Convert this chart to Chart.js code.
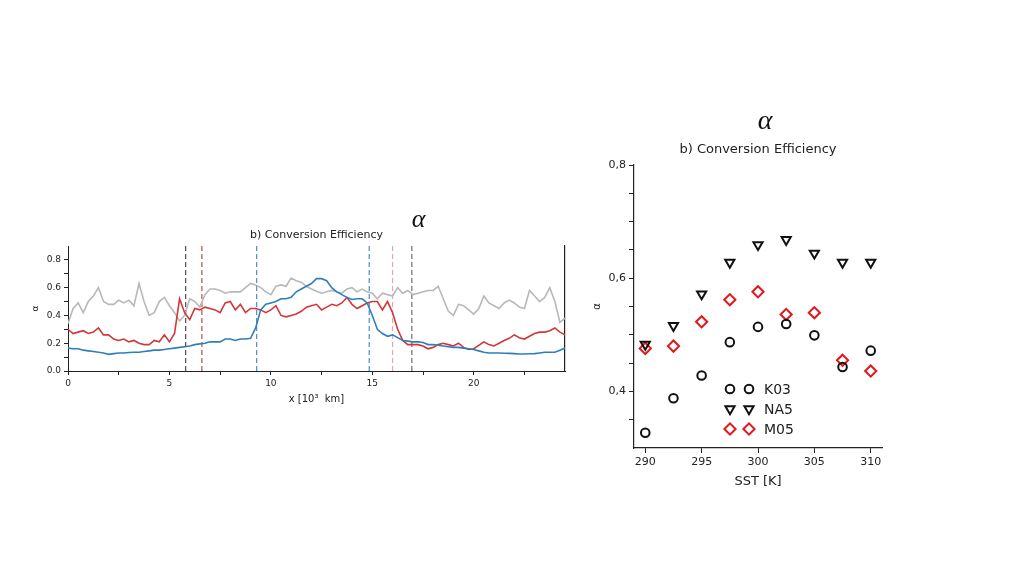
<!DOCTYPE html>
<html>
<head>
<meta charset="utf-8">
<script src="https://cdn.jsdelivr.net/npm/chart.js@4.4.1/dist/chart.umd.min.js"></script>
<style>
  body { margin: 0; background: #fff; width: 1024px; height: 576px; position: relative; overflow: hidden; }
  .box { position: absolute; }
  #leftBox { left: 20px; top: 200px; width: 560px; height: 215px; }
  #rightBox { left: 585px; top: 100px; width: 310px; height: 400px; }
</style>
</head>
<body>
<div class="box" id="leftBox"><canvas id="profileChart"></canvas></div>
<div class="box" id="rightBox"><canvas id="sstChart"></canvas></div>
<script>
// left panel: alpha along x [10^3 km]
const profileX = [0,0.25,0.5,0.75,1,1.25,1.5,1.75,2,2.25,2.5,2.75,3,3.25,3.5,3.75,4,4.25,4.5,4.75,5,5.25,5.5,5.75,
  6,6.25,6.5,6.75,7,7.25,7.5,7.75,8,8.25,8.5,8.75,9,9.25,9.5,9.75,10,10.25,10.5,10.75,11,11.25,11.5,11.75,12,
  12.25,12.5,12.75,13,13.25,13.5,13.75,14,14.25,14.5,14.75,15,15.25,15.5,15.75,16,16.25,16.5,16.75,17,17.25,17.5,17.75,18,
  18.25,18.5,18.75,19,19.25,19.5,19.75,20,20.25,20.5,20.75,21,21.25,21.5,21.75,22,22.25,22.5,22.75,23,23.25,23.5,23.75,24,24.25,24.5];

const grayAlpha = [0.34,0.45,0.49,0.42,0.50,0.54,0.60,0.50,0.48,0.48,0.51,0.49,0.51,0.47,0.63,0.50,0.40,0.42,0.50,0.53,0.47,0.42,0.36,0.40,
  0.52,0.50,0.46,0.55,0.59,0.59,0.58,0.56,0.57,0.57,0.57,0.60,0.63,0.62,0.60,0.57,0.55,0.61,0.62,0.61,0.67,0.65,0.64,0.61,0.59,
  0.575,0.56,0.57,0.58,0.57,0.56,0.59,0.60,0.57,0.59,0.57,0.56,0.52,0.56,0.55,0.54,0.60,0.56,0.58,0.55,0.56,0.57,0.58,0.58,
  0.61,0.52,0.43,0.40,0.48,0.47,0.44,0.41,0.45,0.54,0.49,0.47,0.45,0.49,0.51,0.49,0.46,0.45,0.58,0.54,0.50,0.53,0.60,0.50,0.35,0.38];

const redAlpha = [0.30,0.27,0.28,0.29,0.27,0.28,0.31,0.26,0.26,0.23,0.22,0.23,0.21,0.22,0.20,0.19,0.19,0.22,0.21,0.26,0.21,0.27,0.52,0.42,
  0.37,0.45,0.44,0.46,0.45,0.44,0.42,0.49,0.50,0.44,0.48,0.42,0.45,0.45,0.44,0.42,0.44,0.47,0.40,0.39,0.40,0.41,0.43,0.46,0.47,
  0.48,0.44,0.46,0.48,0.47,0.49,0.53,0.48,0.45,0.47,0.49,0.50,0.50,0.44,0.50,0.42,0.30,0.22,0.19,0.19,0.19,0.18,0.16,0.17,
  0.19,0.20,0.19,0.18,0.20,0.17,0.155,0.16,0.185,0.21,0.19,0.18,0.20,0.22,0.235,0.26,0.24,0.23,0.25,0.27,0.28,0.28,0.29,0.31,0.28,0.26];

const blueAlpha = [0.165,0.16,0.16,0.15,0.145,0.14,0.135,0.13,0.12,0.125,0.13,0.13,0.133,0.135,0.135,0.14,0.145,0.15,0.15,0.155,0.16,0.165,0.17,0.175,
  0.18,0.19,0.195,0.20,0.21,0.21,0.21,0.23,0.23,0.22,0.23,0.23,0.235,0.31,0.44,0.48,0.49,0.50,0.52,0.52,0.53,0.57,0.59,0.61,0.63,
  0.665,0.665,0.65,0.60,0.57,0.55,0.53,0.515,0.52,0.52,0.49,0.40,0.30,0.27,0.25,0.26,0.24,0.22,0.215,0.21,0.21,0.205,0.19,0.19,
  0.185,0.18,0.175,0.17,0.17,0.165,0.16,0.155,0.145,0.135,0.13,0.13,0.13,0.128,0.127,0.125,0.122,0.122,0.124,0.125,0.13,0.135,0.135,0.135,0.15,0.165];

const markerX = [5.8, 6.6, 9.3, 14.85, 16.0, 16.95];
const profileXTicks = [0, 2.5, 5, 7.5, 10, 12.5, 15, 17.5, 20, 22.5];
const profileYTicks = [0, 0.1, 0.2, 0.3, 0.4, 0.5, 0.6, 0.7, 0.8];

// right panel: alpha vs SST
const sstValues = [290, 292.5, 295, 297.5, 300, 302.5, 305, 307.5, 310];
const k03 = [0.327, 0.388, 0.428, 0.487, 0.514, 0.519, 0.499, 0.443, 0.472];
const na5 = [0.483, 0.516, 0.572, 0.628, 0.659, 0.668, 0.644, 0.628, 0.628];
const m05 = [0.476, 0.480, 0.523, 0.562, 0.576, 0.536, 0.539, 0.455, 0.436];
const sstTicks = [290, 295, 300, 305, 310];
const sstYTicks = [0.35, 0.4, 0.45, 0.5, 0.55, 0.6, 0.65, 0.7, 0.75, 0.8];
const seriesNames = ['K03', 'NA5', 'M05'];

const FONT = "'DejaVu Sans', sans-serif";
const markerColors = ['#4a4a4a', '#c8474a', '#4d8fc6', '#4d8fc6', '#e6a3b3', '#6f6f6f'];

// text above the plot, placed from the centre of the chart area
const headings = {
  id: 'headings',
  afterDraw(chart, args, opts) {
    const { ctx, chartArea } = chart;
    const cx = (chartArea.left + chartArea.right) / 2;
    (opts.items || []).forEach(it => {
      ctx.save();
      ctx.font = it.font;
      ctx.fillStyle = it.color || '#222';
      ctx.textAlign = 'center';
      ctx.textBaseline = 'alphabetic';
      ctx.fillText(it.text, cx + (it.dx || 0), chartArea.top + it.dy);
      ctx.restore();
    });
  }
};

function toPoints(xs, ys) {
  return xs.map((x, i) => ({ x: x, y: ys[i] }));
}

const profileSets = [
  { data: toPoints(profileX, blueAlpha), borderColor: '#2f7ebc' },
  { data: toPoints(profileX, redAlpha), borderColor: '#d3363a' },
  { data: toPoints(profileX, grayAlpha), borderColor: '#b8b8b8' }
].map(d => Object.assign(d, { borderWidth: 1.6, pointRadius: 0, tension: 0, fill: false }));

markerX.forEach((v, i) => {
  profileSets.push({
    data: [{ x: v, y: 0 }, { x: v, y: 0.9 }],
    borderColor: markerColors[i],
    borderWidth: 1.2,
    borderDash: [5, 3],
    pointRadius: 0,
    fill: false
  });
});

const tickGrid = { display: true, drawOnChartArea: false, drawTicks: true, tickLength: 4, tickColor: '#222' };

new Chart(document.getElementById('profileChart'), {
  type: 'line',
  data: { datasets: profileSets },
  plugins: [headings],
  options: {
    responsive: true,
    maintainAspectRatio: false,
    animation: false,
    layout: { padding: { left: 0, right: 14, top: 46, bottom: 4 } },
    plugins: {
      legend: { display: false },
      tooltip: { enabled: false },
      headings: {
        items: [
          { text: 'b) Conversion Efficiency', font: '11px ' + FONT, dy: -8 },
          { text: 'α', font: 'italic 26px "Liberation Serif", serif', dx: 102, dy: -19, color: '#111' }
        ]
      }
    },
    scales: {
      x: {
        type: 'linear',
        min: 0,
        max: 24.5,
        afterFit: s => { s.height = 40; },
        afterBuildTicks: s => { s.ticks = profileXTicks.map(v => ({ value: v })); },
        grid: tickGrid,
        border: { display: true, color: '#222', width: 1 },
        ticks: {
          autoSkip: false, maxRotation: 0, color: '#222', font: { family: FONT, size: 9 }, padding: 3,
          callback: v => (v % 5 === 0 ? String(v) : '')
        },
        title: { display: true, text: 'x [10³  km]', color: '#222', font: { family: FONT, size: 10 }, padding: { top: 0, bottom: 6 } }
      },
      y: {
        min: 0,
        max: 0.9,
        afterFit: s => { s.width = 48; },
        afterBuildTicks: s => { s.ticks = profileYTicks.map(v => ({ value: v })); },
        grid: tickGrid,
        border: { display: true, color: '#222', width: 1 },
        ticks: {
          autoSkip: false, color: '#222', font: { family: FONT, size: 9 }, padding: 3,
          callback: v => (Math.round(v * 10) % 2 === 0 ? v.toFixed(1) : '')
        },
        title: { display: true, text: 'α', color: '#222', font: { family: FONT, size: 9 }, padding: { top: 10, bottom: 4 } }
      },
      y2: {
        position: 'right',
        min: 0,
        max: 0.9,
        afterFit: s => { s.width = 1; },
        grid: { display: false, drawTicks: false },
        ticks: { display: false },
        border: { display: true, color: '#222', width: 1.2 }
      }
    }
  }
});

// right panel legend drawn inside the plot, two markers per entry
function drawMarker(ctx, style, x, y, r, rotation) {
  ctx.beginPath();
  if (style === 'circle') {
    ctx.arc(x, y, r, 0, Math.PI * 2);
  } else if (style === 'triangle') {
    let rad = rotation * Math.PI / 180;
    ctx.moveTo(x + Math.sin(rad) * r, y - Math.cos(rad) * r);
    rad += 2 * Math.PI / 3;
    ctx.lineTo(x + Math.sin(rad) * r, y - Math.cos(rad) * r);
    rad += 2 * Math.PI / 3;
    ctx.lineTo(x + Math.sin(rad) * r, y - Math.cos(rad) * r);
    ctx.closePath();
  } else {
    ctx.moveTo(x - r, y); ctx.lineTo(x, y - r); ctx.lineTo(x + r, y); ctx.lineTo(x, y + r);
    ctx.closePath();
  }
  ctx.stroke();
}

const innerLegend = {
  id: 'innerLegend',
  afterDraw(chart) {
    const { ctx, chartArea } = chart;
    chart.data.datasets.forEach((ds, i) => {
      const y = chartArea.top + 224 + i * 20;
      ctx.save();
      ctx.strokeStyle = ds.borderColor;
      ctx.lineWidth = ds.borderWidth;
      [96, 115].forEach(dx => drawMarker(ctx, ds.pointStyle, chartArea.left + dx, y, ds.pointRadius, ds.rotation || 0));
      ctx.fillStyle = '#222';
      ctx.font = '14px ' + FONT;
      ctx.textAlign = 'left';
      ctx.textBaseline = 'middle';
      ctx.fillText(ds.label, chartArea.left + 130, y + 1);
      ctx.restore();
    });
  }
};

new Chart(document.getElementById('sstChart'), {
  type: 'scatter',
  data: {
    datasets: [
      { label: seriesNames[0], data: toPoints(sstValues, k03), pointStyle: 'circle', pointRadius: 4.3, borderColor: '#111', borderWidth: 2 },
      { label: seriesNames[1], data: toPoints(sstValues, na5), pointStyle: 'triangle', rotation: 180, pointRadius: 5.3, borderColor: '#111', borderWidth: 2 },
      { label: seriesNames[2], data: toPoints(sstValues, m05), pointStyle: 'rectRot', pointRadius: 5.6, borderColor: '#e3171b', borderWidth: 2 }
    ].map(d => Object.assign(d, { backgroundColor: 'rgba(0,0,0,0)', pointBackgroundColor: 'rgba(0,0,0,0)', pointRotation: d.rotation || 0, pointHoverRadius: d.pointRadius }))
  },
  plugins: [headings, innerLegend],
  options: {
    responsive: true,
    maintainAspectRatio: false,
    animation: false,
    layout: { padding: { left: 0, right: 13, top: 65, bottom: 10 } },
    plugins: {
      legend: { display: false },
      tooltip: { enabled: false },
      headings: {
        items: [
          { text: 'b) Conversion Efficiency', font: '13px ' + FONT, dy: -12 },
          { text: 'α', font: 'italic 28px "Liberation Serif", serif', dx: 7, dy: -36, color: '#111' }
        ]
      }
    },
    scales: {
      x: {
        type: 'linear',
        min: 289,
        max: 311,
        afterFit: s => { s.height = 42; },
        afterBuildTicks: s => { s.ticks = sstTicks.map(v => ({ value: v })); },
        grid: { display: true, drawOnChartArea: false, drawTicks: true, tickLength: 5, tickColor: '#222' },
        border: { display: true, color: '#222', width: 1.2 },
        ticks: { autoSkip: false, maxRotation: 0, color: '#222', font: { family: FONT, size: 11 }, padding: 3 },
        title: { display: true, text: 'SST [K]', color: '#222', font: { family: FONT, size: 13 }, padding: { top: 0, bottom: 1 } }
      },
      y: {
        min: 0.3,
        max: 0.8,
        afterFit: s => { s.width = 49; },
        afterBuildTicks: s => { s.ticks = sstYTicks.map(v => ({ value: v })); },
        grid: { display: true, drawOnChartArea: false, drawTicks: true, tickLength: 5, tickColor: '#222' },
        border: { display: true, color: '#222', width: 1.2 },
        ticks: {
          autoSkip: false, color: '#222', font: { family: FONT, size: 11 }, padding: 3,
          callback: v => (Math.round(v * 100) % 20 === 0 ? v.toFixed(1).replace('.', ',') : '')
        },
        title: { display: true, text: 'α', color: '#222', font: { family: FONT, size: 10 }, padding: { top: 6, bottom: 4 } }
      }
    }
  }
});
</script>
</body>
</html>
